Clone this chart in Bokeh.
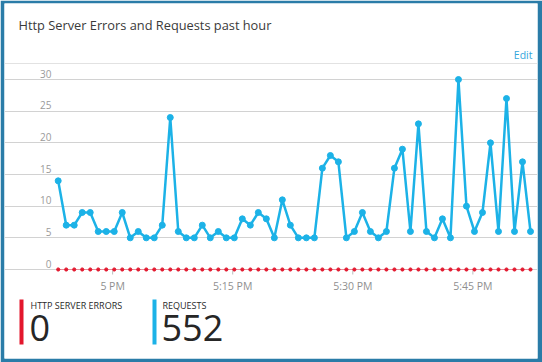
import pandas as pd
from bokeh.plotting import figure
from bokeh.models import Range1d, ColumnDataSource, Grid, FixedTicker, Span
from bokeh.core.properties import value
from bokeh.embed import file_html
from bokeh.resources import INLINE

# ---------------- data ----------------
title_text = "Http Server Errors and Requests past hour"
edit_text = "Edit"
series_names = ["HTTP SERVER ERRORS", "REQUESTS"]
series_colors = ["#e3172d", "#1cb2e7"]
start_time = "2016-03-01 16:53:12"

requests = [14, 7, 7, 9, 9, 6, 6, 6, 9, 5,
            6, 5, 5, 7, 24, 6, 5, 5, 7, 5,
            6, 5, 5, 8, 7, 9, 8, 5, 11, 7,
            5, 5, 5, 16, 18, 17, 5, 6, 9, 6,
            5, 6, 16, 19, 6, 23, 6, 5, 8, 5,
            30, 10, 6, 9, 20, 6, 27, 6, 17, 6]
errors = [0, 0, 0, 0, 0, 0, 0, 0, 0, 0,
          0, 0, 0, 0, 0, 0, 0, 0, 0, 0,
          0, 0, 0, 0, 0, 0, 0, 0, 0, 0,
          0, 0, 0, 0, 0, 0, 0, 0, 0, 0,
          0, 0, 0, 0, 0, 0, 0, 0, 0, 0,
          0, 0, 0, 0, 0, 0, 0, 0, 0, 0]

y_ticks = [0, 5, 10, 15, 20, 25, 30]
y_tick_labels = ["0", "5", "10", "15", "20", "25", "30"]
x_tick_times = ["2016-03-01 17:00", "2016-03-01 17:15",
                "2016-03-01 17:30", "2016-03-01 17:45"]
x_tick_labels = ["5 PM", "5:15 PM", "5:30 PM", "5:45 PM"]

# ---------------- derived ----------------
times = pd.date_range(start_time, periods=len(requests), freq="min")
times_ms = [t.value / 1e6 for t in times]
tick_ms = [pd.Timestamp(t).value / 1e6 for t in x_tick_times]
totals = [sum(errors), sum(requests)]

# ---------------- layout constants (pixels inside the frame) ----------------
W, H = 542, 362
BL, BR, BT, BB = 4, 5, 3, 4
FW, FH = W - BL - BR, H - BT - BB
Y0_PX = 266.0
PX_PER_UNIT = 190.0 / 30.0
X_FIRST_PX, X_LAST_PX = 53.7, 526.0

y_range = Range1d(-(FH - Y0_PX) / PX_PER_UNIT, Y0_PX / PX_PER_UNIT)
px_per_ms = (X_LAST_PX - X_FIRST_PX) / (times_ms[-1] - times_ms[0])
x_range = Range1d(times_ms[0] - X_FIRST_PX / px_per_ms,
                  times_ms[-1] + (FW - X_LAST_PX) / px_per_ms)

FONT = "Open Sans"

p = figure(width=W, height=H, x_range=x_range, y_range=y_range,
           x_axis_location=None, y_axis_location=None,
           toolbar_location=None, output_backend="svg",
           min_border_left=BL, min_border_right=BR,
           min_border_top=BT, min_border_bottom=BB,
           border_fill_color="#2a7ca8", background_fill_color="white",
           outline_line_color=None)
for g in p.grid:
    g.visible = False
p.extra_x_ranges = {"px": Range1d(0, FW)}
p.extra_y_ranges = {"px": Range1d(FH, 0)}

# grid lines
grid = Grid(dimension=1, ticker=FixedTicker(ticks=y_ticks),
            grid_line_color="#d2d2d2", grid_line_width=1)
p.add_layout(grid)
p.add_layout(Span(location=60, dimension="width", y_range_name="px",
                  line_color="#e2e2e2", line_width=1))

# title and edit
p.text(x=14, y=21, text=[title_text], x_range_name="px", y_range_name="px",
       text_font=value(FONT), text_font_size="12.8px", text_color="#3a3a3a",
       text_align="left", text_baseline="middle")
p.text(x=528, y=51, text=[edit_text], x_range_name="px", y_range_name="px",
       text_font=value(FONT), text_font_size="10.5px", text_color="#33a6dc",
       text_align="right", text_baseline="middle")

# y tick labels
p.text(x=47, y=y_ticks, text=y_tick_labels, x_range_name="px",
       text_font=value(FONT), text_font_size="10px", text_color="#9a9a9a",
       text_align="right", text_baseline="middle", y_offset=-6)

# x ticks and labels
p.segment(x0=tick_ms, y0=Y0_PX + 1, x1=tick_ms, y1=Y0_PX + 5,
          y_range_name="px", line_color="#bdbdbd", line_width=1)
p.text(x=tick_ms, y=Y0_PX + 16, text=x_tick_labels, y_range_name="px",
       text_font=value(FONT), text_font_size="10.5px", text_color="#8f8f8f",
       text_align="center", text_baseline="middle")

# series
src = ColumnDataSource(dict(t=times_ms, req=requests, err=errors))
p.line("t", "err", source=src, line_color="#e88c99", line_width=1.2)
p.scatter("t", "err", source=src, marker="circle", size=3.2,
          fill_color=series_colors[0], line_color=series_colors[0])
p.line("t", "req", source=src, line_color=series_colors[1], line_width=2.5)
p.scatter("t", "req", source=src, marker="circle", size=6,
          fill_color=series_colors[1], line_color=series_colors[1])

# legend tiles
leg_left = [15, 148]
leg_text_x = [26, 158]
p.quad(left=leg_left, right=[l + 4 for l in leg_left], top=296, bottom=341,
       x_range_name="px", y_range_name="px",
       fill_color=series_colors, line_color=None)
p.text(x=leg_text_x, y=301.5, text=series_names, x_range_name="px",
       y_range_name="px", text_font=value(FONT), text_font_size="9px",
       text_color="#2a2a2a", text_align="left", text_baseline="middle")
p.text(x=[x - 1 for x in leg_text_x], y=324, text=[str(v) for v in totals],
       x_range_name="px", y_range_name="px", text_font=value(FONT),
       text_font_size="36px", text_color="#262626", text_align="left",
       text_baseline="middle")

open("out.html", "w").write(file_html(p, INLINE))
